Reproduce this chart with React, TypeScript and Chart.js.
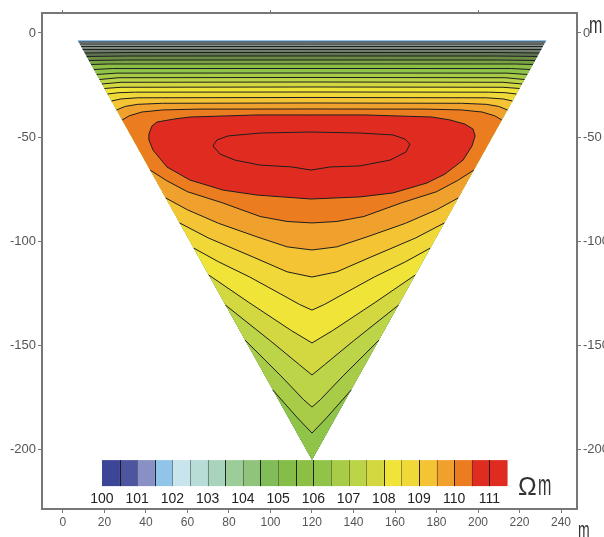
import { useEffect, useRef } from 'react';
import { Chart, registerables } from 'chart.js';

Chart.register(...registerables);

// ---- axes ----
const X_TICKS = [0, 20, 40, 60, 80, 100, 120, 140, 160, 180, 200, 220, 240];
const Y_TICKS = [0, -50, -100, -150, -200];
const TOP_TICKS = [0, 100, 200];
const X_RANGE = [-10.1, 247.7];
const Y_RANGE = [-228.8, 9.6];

// ---- colour scale (Ωm) ----
const LEVELS = [100, 100.5, 101, 101.5, 102, 102.5, 103, 103.5, 104, 104.5, 105, 105.5, 106, 106.5, 107, 107.5, 108, 108.5, 109, 109.5, 110, 110.5, 111];
const LEVEL_COLORS = ['#3c4696', '#4e55a0', '#8890c6', '#90c4e8', '#c8e4ec', '#b8dcd8', '#a8d4bc', '#9ccc98', '#90c47c', '#80bc58', '#84be48', '#8cc044', '#90c448', '#a8cc48', '#bcd448', '#d4d840', '#f0e438', '#f0d838', '#f4c434', '#f0a02c', '#ec7c20', '#e02c20', '#e02c20'];
const COLORBAR_LABELS = ['100', '101', '102', '103', '104', '105', '106', '107', '108', '109', '110', '111'];
const DARK_DIVIDERS = [1, 3, 7, 9, 11, 12, 16, 18, 20, 22];
const COLORBAR_X = [18.8, 214.0];
const COLORBAR_Y = [-205.3, -217.8];
const COLORBAR_LABEL_Y = -223.9;

// the thin, densely-lined bands near the surface print darker in the section
const SHADED_LEVELS = [102, 102.5, 103, 103.5, 104, 104.5, 105];
const SHADED_COLORS = ['#a9b8b2', '#8e9c94', '#7e8c80', '#6e7e6a', '#607650', '#6a8c44', '#7aa444'];

// ---- section geometry ----
const TRIANGLE = [[7, -3.4], [233, -3.4], [120, -205.3]];
const BASE_LEVEL = 101.5;

// contour lines in the upper part (left edge -> right edge)
const UPPER_LEVELS = [102, 102.5, 103, 103.5, 104, 104.5, 105, 105.5, 106, 106.5, 107, 107.5, 108, 108.5, 109, 109.5, 110];
const UPPER_LINES = [
  [[7.5, -4.33], [120, -4.33], [232.5, -4.33]],
  [[8.1, -5.29], [120, -5.29], [231.9, -5.29]],
  [[8.7, -6.49], [120, -6.49], [231.3, -6.49]],
  [[9.5, -7.93], [120, -7.93], [230.5, -7.93]],
  [[10.5, -9.62], [30, -9.4], [120, -9.38], [210, -9.4], [229.5, -9.62]],
  [[11.4, -11.3], [30, -11.08], [120, -11.06], [210, -11.08], [228.6, -11.3]],
  [[12.5, -13.22], [30, -13.0], [120, -12.98], [210, -13.0], [227.5, -13.22]],
  [[13.6, -15.14], [22, -14.92], [120, -14.9], [218, -14.92], [226.4, -15.14]],
  [[14.9, -17.55], [24, -17.1], [120, -17.07], [216, -17.1], [225.1, -17.55]],
  [[16.3, -19.95], [26, -19.3], [120, -19.23], [214, -19.3], [223.7, -19.95]],
  [[17.6, -22.36], [27, -21.5], [120, -21.39], [213, -21.5], [222.4, -22.36]],
  [[18.8, -24.52], [28, -23.7], [120, -23.56], [212, -23.7], [221.2, -24.52]],
  [[20.0, -26.68], [28, -26.1], [120, -25.96], [212, -26.1], [220, -26.68]],
  [[21.5, -29.33], [27, -28.7], [35, -28.45], [120, -28.37], [205, -28.45], [213, -28.7], [218.5, -29.33]],
  [[23.4, -32.69], [28, -31.7], [36, -31.15], [120, -31.0], [204, -31.15], [212, -31.7], [216.6, -32.69]],
  [[25.8, -37.02], [30, -35.3], [36, -34.3], [48, -33.8], [120, -33.65], [192, -33.8], [204, -34.3], [210, -35.3], [214.2, -37.02]],
  [[28.5, -41.83], [32, -39.8], [38, -38.0], [48, -37.0], [65, -36.6], [120, -36.54], [175, -36.6], [192, -37.0], [202, -38.0], [208, -39.8], [211.5, -41.83]],
];

// contour lines in the lower part (left edge -> right edge)
const LOWER_LEVELS = [106.5, 107, 107.5, 108, 108.5, 109, 109.5, 110];
const LOWER_LINES = [
  [[101.1, -171.6], [113, -185], [120, -192.3], [127, -185], [138.9, -171.6]],
  [[87.7, -147.6], [105, -164.8], [116, -176.3], [120, -179.8], [124, -176.3], [135, -164.8], [152.3, -147.6]],
  [[78.3, -130.8], [100, -148], [114, -159.5], [120, -164.4], [126, -159.5], [140, -148], [161.7, -130.8]],
  [[70.2, -116.3], [90, -129.8], [110, -143], [120, -149], [130, -143], [150, -129.8], [169.8, -116.3]],
  [[63, -103.4], [75, -110], [90, -117.3], [105, -125.5], [114, -130.5], [120, -133.2], [126, -130.5], [135, -125.5], [150, -117.3], [165, -110], [177, -103.4]],
  [[56.2, -91.3], [70, -98.5], [93.5, -108.5], [108, -114.8], [120, -117.3], [132, -114.8], [146.5, -108.5], [170, -98.5], [183.8, -91.3]],
  [[49.5, -79.3], [60, -85], [75, -91.5], [93.5, -98], [108, -102.8], [120, -104.3], [132, -102.8], [146.5, -98], [165, -91.5], [180, -85], [190.5, -79.3]],
  [[42.0, -65.9], [50, -71], [60, -76.3], [77, -81.7], [95, -88.2], [108, -90.6], [120, -91.3], [132, -90.6], [145, -88.2], [163, -81.7], [180, -76.3], [190, -71], [198, -65.9]],
];

// closed contours around the maximum
const LOOP_LEVELS = [110.5, 111];
const LOOPS = [
  [[41.4, -48.6], [42.9, -44.7], [45.3, -42.8], [54.0, -41.3], [61.2, -40.4], [93.5, -39.4], [119.5, -39.4], [145.5, -39.4], [177.8, -40.4], [186.5, -41.8], [193.7, -43.8], [197.6, -46.2], [198.6, -49.5], [197.1, -54.3], [192.8, -61.1], [184.1, -67.8], [175.4, -72.1], [159.0, -76.9], [143.1, -78.8], [119.5, -79.8], [93.5, -77.9], [77.1, -75.5], [61.2, -70.7], [50.1, -64.4], [43.4, -56.3], [41.4, -51.4]],
  [[72.3, -54.3], [74.2, -51.4], [79.5, -49.5], [94.9, -48.1], [119.5, -47.6], [143.1, -48.1], [159.0, -49.0], [164.8, -51.0], [167.2, -53.4], [165.3, -57.2], [157.6, -61.1], [143.1, -63.9], [128.7, -64.4], [119.5, -65.9], [110.4, -64.4], [94.9, -63.5], [82.9, -61.1], [75.7, -58.2]],
];

const LINE_COLOR = '#1e1e1e';
const AXIS_COLOR = '#777777';
const TEXT_COLOR = '#555555';
const FONT = "'Liberation Sans', Arial, sans-serif";

const colorOf = (lv: number) => LEVEL_COLORS[LEVELS.indexOf(lv)];
const fieldColorOf = (lv: number) => {
  const s = SHADED_LEVELS.indexOf(lv);
  return s >= 0 ? SHADED_COLORS[s] : colorOf(lv);
};

const fieldPlugin = {
  id: 'field',
  beforeDatasetsDraw(chart: any) {
    const { ctx, scales } = chart;
    const xs = scales.x;
    const ys = scales.y;
    const poly = (pts: number[][], color: string) => {
      ctx.beginPath();
      pts.forEach((p, i) => {
        const a = xs.getPixelForValue(p[0]);
        const b = ys.getPixelForValue(p[1]);
        if (i === 0) ctx.moveTo(a, b);
        else ctx.lineTo(a, b);
      });
      ctx.closePath();
      ctx.fillStyle = color;
      ctx.fill();
    };
    ctx.save();
    poly(TRIANGLE, fieldColorOf(BASE_LEVEL));
    ctx.clip();
    UPPER_LEVELS.forEach((lv, i) => {
      const pts = [...UPPER_LINES[i]];
      const li = LOWER_LEVELS.indexOf(lv);
      if (li >= 0) pts.push(...[...LOWER_LINES[li]].reverse());
      else pts.push(TRIANGLE[2]);
      poly(pts, fieldColorOf(lv));
    });
    LOOP_LEVELS.forEach((lv, i) => poly(LOOPS[i], fieldColorOf(lv)));
    ctx.restore();
  },
};

const drawUnit = (ctx: any, text: string, x: number, y: number, size: number, sy: number) => {
  ctx.save();
  ctx.translate(x, y);
  ctx.scale(1, sy);
  ctx.font = `${size}px ${FONT}`;
  ctx.textAlign = 'left';
  ctx.textBaseline = 'alphabetic';
  ctx.fillText(text, 0, 0);
  ctx.restore();
};

const colorbarPlugin = {
  id: 'colorbar',
  afterDraw(chart: any) {
    const { ctx, scales } = chart;
    const xs = scales.x;
    const ys = scales.y;
    const n = LEVEL_COLORS.length;
    const x0 = xs.getPixelForValue(COLORBAR_X[0]);
    const x1 = xs.getPixelForValue(COLORBAR_X[1]);
    const y0 = ys.getPixelForValue(COLORBAR_Y[0]);
    const y1 = ys.getPixelForValue(COLORBAR_Y[1]);
    const w = (x1 - x0) / n;
    ctx.save();
    LEVEL_COLORS.forEach((c, j) => {
      ctx.fillStyle = c;
      ctx.fillRect(x0 + j * w, y0, w + 0.5, y1 - y0);
    });
    for (let b = 1; b < n; b++) {
      const xb = Math.round(x0 + b * w) + 0.5;
      ctx.strokeStyle = DARK_DIVIDERS.includes(b) ? 'rgba(20,20,20,0.9)' : 'rgba(40,40,40,0.45)';
      ctx.lineWidth = 1;
      ctx.beginPath();
      ctx.moveTo(xb, y0);
      ctx.lineTo(xb, y1);
      ctx.stroke();
    }
    ctx.fillStyle = '#222';
    ctx.font = `14px ${FONT}`;
    ctx.textAlign = 'center';
    ctx.textBaseline = 'middle';
    const ly = ys.getPixelForValue(COLORBAR_LABEL_Y);
    COLORBAR_LABELS.forEach((t, k) => {
      ctx.fillText(t, x0 + 2 * k * w, ly);
    });
    // units
    ctx.fillStyle = '#333';
    ctx.font = `25px ${FONT}`;
    ctx.textAlign = 'left';
    ctx.textBaseline = 'alphabetic';
    ctx.fillText('Ω', x1 + 11, y0 + 35);
    drawUnit(ctx, 'm', x1 + 31, y0 + 35, 16, 1.9);
    drawUnit(ctx, 'm', 589, 33, 16, 1.55);
    drawUnit(ctx, 'm', 578, 538, 14, 1.7);
    ctx.restore();
  },
};

const lineDataset = (pts: number[][], closed: boolean) => ({
  data: (closed ? [...pts, pts[0]] : pts).map(([x, y]) => ({ x, y })),
  showLine: true,
  borderColor: LINE_COLOR,
  borderWidth: 1,
  pointRadius: 0,
  pointHoverRadius: 0,
  fill: false,
  tension: 0,
});

const axisCommon = (ticks: number[], size: number) => ({
  type: 'linear' as const,
  afterBuildTicks: (axis: any) => {
    axis.ticks = ticks.map((v) => ({ value: v }));
  },
  grid: { drawOnChartArea: false, drawTicks: true, tickLength: 4, color: AXIS_COLOR, lineWidth: 1 },
  border: { display: true, color: AXIS_COLOR, width: 2 },
  ticks: {
    color: TEXT_COLOR,
    font: { family: FONT, size },
    padding: 2,
    autoSkip: false,
    maxRotation: 0,
    callback: (v: any) => String(v),
  },
});

export default function App() {
  const ref = useRef<HTMLCanvasElement>(null);
  useEffect(() => {
    if (!ref.current) return;
    const datasets = [
      ...UPPER_LINES.map((l) => lineDataset(l, false)),
      ...LOWER_LINES.map((l) => lineDataset(l, false)),
      ...LOOPS.map((l) => lineDataset(l, true)),
    ];
    const chart = new Chart(ref.current, {
      type: 'scatter',
      data: { datasets },
      options: {
        animation: false,
        responsive: false,
        devicePixelRatio: 1,
        events: [],
        layout: { padding: 0 },
        plugins: { legend: { display: false }, tooltip: { enabled: false } },
        scales: {
          x: {
            ...axisCommon(X_TICKS, 12),
            position: 'bottom',
            min: X_RANGE[0],
            max: X_RANGE[1],
            afterFit: (s: any) => { s.height = 28; },
          },
          x2: {
            ...axisCommon(TOP_TICKS, 12),
            position: 'top',
            min: X_RANGE[0],
            max: X_RANGE[1],
            grid: { drawOnChartArea: false, drawTicks: true, tickLength: 3, color: AXIS_COLOR },
            ticks: { display: false },
            afterFit: (s: any) => { s.height = 13; },
          },
          y: {
            ...axisCommon(Y_TICKS, 13),
            position: 'left',
            min: Y_RANGE[0],
            max: Y_RANGE[1],
            afterFit: (s: any) => { s.width = 42; },
          },
          y2: {
            ...axisCommon(Y_TICKS, 13),
            position: 'right',
            min: Y_RANGE[0],
            max: Y_RANGE[1],
            afterFit: (s: any) => { s.width = 27; },
          },
        },
      } as any,
      plugins: [fieldPlugin, colorbarPlugin],
    });
    return () => chart.destroy();
  }, []);
  return (
    <div style={{ position: 'fixed', left: 0, top: 0, width: 604, height: 537, background: '#fff' }}>
      <canvas ref={ref} width={604} height={537} style={{ display: 'block' }} />
    </div>
  );
}
